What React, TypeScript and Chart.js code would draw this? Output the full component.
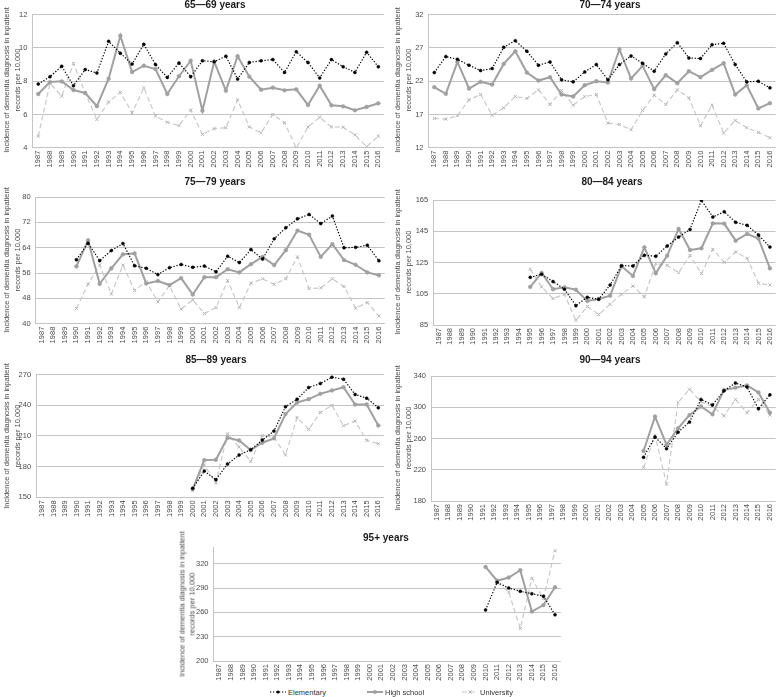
import React, { useEffect, useRef } from 'react';
import { Chart, registerables } from 'chart.js';
Chart.register(...registerables);

const FONT = '"Liberation Sans", Arial, sans-serif';

// ---------- categories ----------
const years = ['1987', '1988', '1989', '1990', '1991', '1992', '1993', '1994', '1995', '1996',
  '1997', '1998', '1999', '2000', '2001', '2002', '2003', '2004', '2005', '2006',
  '2007', '2008', '2009', '2010', '2011', '2012', '2013', '2014', '2015', '2016'];

const seriesNames = ['Elementary', 'High school', 'University'];
const yAxisTitle = ['Incidence of dementia diagnosis in inpatient', 'records per 10,000'];

// ---------- 65–69 ----------
const elem65 = [7.83, 8.27, 8.9, 7.73, 8.7, 8.5, 10.4, 9.68, 9.03, 10.22, 9.0, 8.23, 9.1, 8.27, 9.23, 9.17, 9.5, 8.13, 9.13, 9.23, 9.3, 8.53, 9.77, 9.13, 8.2, 9.3, 8.87, 8.53, 9.74, 8.87];
const hs65 = [7.23, 7.95, 7.99, 7.47, 7.29, 6.5, 8.15, 10.74, 8.55, 8.93, 8.73, 7.23, 8.3, 9.23, 6.23, 9.17, 7.43, 9.5, 8.27, 7.49, 7.61, 7.45, 7.51, 6.57, 7.73, 6.55, 6.49, 6.25, 6.45, 6.67];
const univ65 = [4.7, 7.87, 7.1, 9.07, 7.3, 5.7, 6.75, 7.33, 6.1, 7.6, 5.9, 5.53, 5.33, 6.27, 4.8, 5.15, 5.2, 6.87, 5.25, 4.9, 6.0, 5.5, 3.98, 5.25, 5.83, 5.25, 5.23, 4.77, 4.06, 4.7];
const ticks65 = [4, 6, 8, 10, 12];

// ---------- 70–74 ----------
const elem70 = [23.3, 25.7, 25.3, 24.4, 23.6, 23.9, 27.1, 28.1, 26.5, 24.4, 24.9, 22.2, 21.9, 23.4, 24.5, 22.2, 24.5, 25.8, 24.7, 23.5, 26.1, 27.8, 25.5, 25.4, 27.5, 27.7, 24.5, 21.9, 22.0, 21.0];
const hs70 = [21.1, 20.1, 24.9, 20.9, 21.9, 21.5, 24.6, 26.5, 23.3, 22.1, 22.6, 20.0, 19.7, 21.4, 22.0, 21.8, 26.8, 22.4, 24.3, 20.8, 22.9, 21.7, 23.5, 22.6, 23.7, 24.7, 20.0, 21.4, 17.9, 18.7];
const univ70 = [16.4, 16.3, 16.8, 19.2, 20.0, 16.9, 18.0, 19.7, 19.4, 20.7, 18.5, 20.6, 18.4, 19.7, 20.0, 15.7, 15.5, 14.7, 17.6, 19.9, 18.5, 20.7, 19.5, 15.3, 18.4, 14.2, 16.1, 15.0, 14.3, 13.5];
const ticks70 = [12, 17, 22, 27, 32];

// ---------- 75–79 ----------
const elem75 = [null, null, null, 60.2, 65.4, 59.9, 63.1, 65.3, 58.3, 57.5, 55.5, 57.7, 58.7, 57.8, 58.2, 56.4, 61.3, 59.3, 63.4, 60.4, 66.8, 70.3, 73.1, 74.5, 71.6, 74.0, 64.0, 64.1, 64.8, 59.9];
const hs75 = [null, null, null, 58.1, 66.3, 52.6, 57.5, 61.9, 62.2, 52.7, 53.5, 52.2, 54.4, 49.2, 54.7, 54.7, 57.2, 56.2, 58.8, 61.1, 58.5, 63.2, 69.4, 68.1, 61.1, 65.1, 60.1, 58.6, 56.2, 55.3];
const univ75 = [null, null, null, 44.8, 52.5, 58.5, 49.4, 58.5, 50.5, 53.3, 46.9, 52.0, 44.6, 47.5, 43.2, 45.1, 53.6, 45.1, 52.8, 54.2, 52.4, 54.2, 61.1, 51.1, 51.3, 54.2, 51.7, 44.9, 46.7, 42.4];
const ticks75 = [40, 48, 56, 64, 72, 80];

// ---------- 80–84 ----------
const elem80 = [null, null, null, null, null, null, null, null, 115.5, 117.5, 112.8, 107.9, 97.4, 102.7, 101.5, 110.6, 123.0, 122.8, 129.6, 129.0, 135.6, 141.3, 146.2, 164.8, 154.1, 157.5, 150.7, 148.8, 142.6, 134.9];
const hs80 = [null, null, null, null, null, null, null, null, 109.4, 118.3, 107.9, 109.1, 107.6, 100.4, 101.7, 103.8, 122.6, 116.4, 134.7, 118.1, 129.4, 146.5, 133.0, 134.1, 150.1, 149.9, 139.0, 143.3, 140.3, 121.3];
const univ80 = [null, null, null, null, null, null, null, null, 120.7, 109.4, 101.9, 104.7, 88.0, 96.8, 91.7, 98.3, 104.7, 110.0, 103.0, 124.3, 123.2, 118.5, 129.4, 117.9, 133.4, 125.1, 131.7, 127.7, 111.7, 110.6];
const ticks80 = [85, 105, 125, 145, 165];

// ---------- 85–89 ----------
const elem85 = [null, null, null, null, null, null, null, null, null, null, null, null, null, 158.8, 175.7, 167.2, 182.5, 191.3, 196.5, 205.9, 214.7, 238.5, 245.9, 257.3, 261.2, 267.4, 265.4, 250.5, 246.9, 237.5];
const hs85 = [null, null, null, null, null, null, null, null, null, null, null, null, null, 158.1, 186.4, 186.7, 208.2, 205.6, 196.2, 203.3, 207.6, 231.3, 242.7, 245.9, 251.1, 254.4, 257.6, 240.7, 240.7, 220.2];
const univ85 = [null, null, null, null, null, null, null, null, null, null, null, null, null, 156.5, 181.5, 164.0, 212.1, 199.1, 185.1, 210.2, 209.0, 191.3, 228.0, 216.3, 232.9, 239.8, 219.9, 224.5, 205.6, 202.4];
const ticks85 = [150, 180, 210, 240, 270];

// ---------- 90–94 ----------
const elem90 = [null, null, null, null, null, null, null, null, null, null, null, null, null, null, null, null, null, null, 236, 262, 247, 268, 281, 310, 303, 321, 331, 326, 298, 316];
const hs90 = [null, null, null, null, null, null, null, null, null, null, null, null, null, null, null, null, null, null, 244, 288, 252, 273, 290, 301, 291, 322, 325, 328, 319, 293];
const univ90 = [null, null, null, null, null, null, null, null, null, null, null, null, null, null, null, null, null, null, 223, 264, 202, 306, 323, 307, 301, 289, 310, 293, 310, 290];
const ticks90 = [180, 220, 260, 300, 340];

// ---------- 95+ ----------
const elem95 = [null, null, null, null, null, null, null, null, null, null, null, null, null, null, null, null, null, null, null, null, null, null, null, 263, 297, 290, 286, 283, 280, 257];
const hs95 = [null, null, null, null, null, null, null, null, null, null, null, null, null, null, null, null, null, null, null, null, null, null, null, 316, 299, 303, 312, 261, 269, 291];
const univ95 = [null, null, null, null, null, null, null, null, null, null, null, null, null, null, null, null, null, null, null, null, null, null, null, null, 297, 285, 240, 302, 277, 336];
const ticks95 = [200, 230, 260, 290, 320];
const axisMax95 = 340;

// ---------- layout (positions only) ----------
type Panel = {
  title: string;
  elem: (number | null)[];
  hs: (number | null)[];
  univ: (number | null)[];
  ticks: number[];
  max: number;
  box: { left: number; top: number; w: number; h: number };
  plot: { L: number; R: number; T: number; B: number };
  titleAt: { x: number; y: number };
  yTitleAt: { x: number; y: number; lh: number };
};

const panels: Panel[] = [
  {
    title: '65—69 years', elem: elem65, hs: hs65, univ: univ65, ticks: ticks65, max: ticks65[ticks65.length - 1],
    box: { left: 0, top: 0, w: 391, h: 176 }, plot: { L: 32.4, R: 384.2, T: 14.7, B: 147.7 },
    titleAt: { x: 215, y: 5 }, yTitleAt: { x: 12, y: 80, lh: 11 },
  },
  {
    title: '70—74 years', elem: elem70, hs: hs70, univ: univ70, ticks: ticks70, max: ticks70[ticks70.length - 1],
    box: { left: 391, top: 0, w: 391, h: 176 }, plot: { L: 428.5, R: 781.5, T: 14.7, B: 147.7 },
    titleAt: { x: 610, y: 5 }, yTitleAt: { x: 403, y: 80, lh: 11 },
  },
  {
    title: '75—79 years', elem: elem75, hs: hs75, univ: univ75, ticks: ticks75, max: ticks75[ticks75.length - 1],
    box: { left: 0, top: 185, w: 391, h: 170 }, plot: { L: 35.7, R: 386.9, T: 197, B: 323.7 },
    titleAt: { x: 215, y: 182 }, yTitleAt: { x: 12, y: 260, lh: 11 },
  },
  {
    title: '80—84 years', elem: elem80, hs: hs80, univ: univ80, ticks: ticks80, max: ticks80[ticks80.length - 1],
    box: { left: 391, top: 185, w: 391, h: 170 }, plot: { L: 433.2, R: 781.5, T: 200, B: 325 },
    titleAt: { x: 612, y: 182 }, yTitleAt: { x: 403, y: 262, lh: 11 },
  },
  {
    title: '85—89 years', elem: elem85, hs: hs85, univ: univ85, ticks: ticks85, max: ticks85[ticks85.length - 1],
    box: { left: 0, top: 365, w: 391, h: 165 }, plot: { L: 36.1, R: 384.1, T: 374.3, B: 497.3 },
    titleAt: { x: 216, y: 360 }, yTitleAt: { x: 12, y: 436, lh: 11 },
  },
  {
    title: '90—94 years', elem: elem90, hs: hs90, univ: univ90, ticks: ticks90, max: ticks90[ticks90.length - 1],
    box: { left: 391, top: 365, w: 391, h: 165 }, plot: { L: 431, R: 780.1, T: 376, B: 501 },
    titleAt: { x: 610, y: 360 }, yTitleAt: { x: 403, y: 438, lh: 11 },
  },
  {
    title: '95+ years', elem: elem95, hs: hs95, univ: univ95, ticks: ticks95, max: axisMax95,
    box: { left: 160, top: 538, w: 450, h: 148 }, plot: { L: 213.5, R: 560.8, T: 542, B: 661 },
    titleAt: { x: 386, y: 538 }, yTitleAt: { x: 187, y: 604, lh: 9.5 },
  },
];

const C_ELEM = '#000000';
const C_HS = '#a0a0a0';
const C_UNIV = '#c9c9c9';
const C_UNIV_PT = '#b5b5b5';
const C_GRID = '#c4c4c4';
const C_TEXT = '#4a4a4a';

function makeConfig(p: Panel): any {
  const { box, plot } = p;
  const padTop = plot.T - box.top;
  const padRight = box.left + box.w - plot.R;
  const yWidth = plot.L - box.left;
  const xHeight = box.top + box.h - plot.B;
  return {
    type: 'line',
    data: {
      labels: years,
      datasets: [
        {
          label: seriesNames[0], data: p.elem,
          borderColor: C_ELEM, backgroundColor: C_ELEM, borderWidth: 1.2, borderDash: [1.3, 1.7],
          pointStyle: 'circle', pointRadius: 1.5, pointBackgroundColor: C_ELEM, pointBorderColor: C_ELEM, pointBorderWidth: 0.5,
          spanGaps: false, tension: 0,
        },
        {
          label: seriesNames[1], data: p.hs,
          borderColor: C_HS, backgroundColor: C_HS, borderWidth: 2,
          pointStyle: 'circle', pointRadius: 1.9, pointBackgroundColor: C_HS, pointBorderColor: C_HS, pointBorderWidth: 0.5,
          spanGaps: false, tension: 0,
        },
        {
          label: seriesNames[2], data: p.univ,
          borderColor: C_UNIV, backgroundColor: C_UNIV, borderWidth: 1.2, borderDash: [5, 3],
          pointStyle: 'crossRot', pointRadius: 2.2, pointBorderColor: C_UNIV_PT, pointBorderWidth: 1,
          spanGaps: false, tension: 0,
        },
      ],
    },
    options: {
      animation: false,
      responsive: false,
      maintainAspectRatio: false,
      events: [],
      layout: { padding: { top: padTop, right: padRight, bottom: 0, left: 0 } },
      plugins: { legend: { display: false }, title: { display: false }, tooltip: { enabled: false } },
      scales: {
        x: {
          type: 'category',
          offset: true,
          grid: { display: false, drawTicks: false },
          border: { display: false },
          ticks: {
            autoSkip: false, minRotation: 90, maxRotation: 90, padding: 3,
            color: C_TEXT, font: { size: 7.5, family: FONT },
          },
          afterFit: (s: any) => { s.height = xHeight; },
        },
        y: {
          type: 'linear',
          min: p.ticks[0],
          max: p.max,
          grid: { color: C_GRID, lineWidth: 1, drawTicks: false },
          border: { display: true, color: C_GRID, width: 1 },
          ticks: { padding: 5, color: C_TEXT, font: { size: 7.5, family: FONT } },
          afterBuildTicks: (s: any) => { s.ticks = p.ticks.map((v) => ({ value: v })); },
          afterFit: (s: any) => { s.width = yWidth; },
        },
      },
    },
  };
}

function ChartPanel({ p }: { p: Panel }) {
  const ref = useRef<HTMLCanvasElement>(null);
  useEffect(() => {
    const chart = new Chart(ref.current as HTMLCanvasElement, makeConfig(p));
    return () => chart.destroy();
  }, [p]);
  return (
    <canvas
      ref={ref}
      width={p.box.w}
      height={p.box.h}
      style={{ position: 'absolute', left: p.box.left, top: p.box.top, width: p.box.w, height: p.box.h }}
    />
  );
}

function LegendSample({ kind }: { kind: number }) {
  if (kind === 0) {
    return (
      <svg width={16} height={6} style={{ display: 'block' }}>
        <line x1={0} y1={3} x2={16} y2={3} stroke={C_ELEM} strokeWidth={1.2} strokeDasharray="1.3 1.7" />
        <circle cx={8} cy={3} r={1.6} fill={C_ELEM} />
      </svg>
    );
  }
  if (kind === 1) {
    return (
      <svg width={16} height={6} style={{ display: 'block' }}>
        <line x1={0} y1={3} x2={16} y2={3} stroke={C_HS} strokeWidth={2} />
        <circle cx={8} cy={3} r={1.9} fill={C_HS} />
      </svg>
    );
  }
  return (
    <svg width={16} height={6} style={{ display: 'block' }}>
      <line x1={0} y1={3} x2={16} y2={3} stroke={C_UNIV} strokeWidth={1.2} strokeDasharray="5 3" />
      <line x1={6.4} y1={1.4} x2={9.6} y2={4.6} stroke={C_UNIV_PT} strokeWidth={1} />
      <line x1={6.4} y1={4.6} x2={9.6} y2={1.4} stroke={C_UNIV_PT} strokeWidth={1} />
    </svg>
  );
}

const legendX = [270, 367, 462];

export default function App() {
  return (
    <div style={{ position: 'absolute', left: 0, top: 0, width: 782, height: 697, background: '#fff', fontFamily: FONT, overflow: 'hidden' }}>
      {panels.map((p, i) => (
        <ChartPanel key={'c' + i} p={p} />
      ))}
      {panels.map((p, i) => (
        <div
          key={'t' + i}
          style={{
            position: 'absolute', left: p.titleAt.x, top: p.titleAt.y, transform: 'translate(-50%, -50%)',
            fontWeight: 'bold', fontSize: 10, color: '#1a1a1a', whiteSpace: 'nowrap', lineHeight: '12px',
          }}
        >
          {p.title}
        </div>
      ))}
      {panels.map((p, i) => (
        <div
          key={'y' + i}
          style={{
            position: 'absolute', left: p.yTitleAt.x, top: p.yTitleAt.y,
            transform: 'translate(-50%, -50%) rotate(-90deg)', textAlign: 'center',
            fontSize: 7.5, lineHeight: p.yTitleAt.lh + 'px', color: C_TEXT, whiteSpace: 'nowrap',
          }}
        >
          {yAxisTitle[0]}
          <br />
          {yAxisTitle[1]}
        </div>
      ))}
      {seriesNames.map((name, i) => (
        <div
          key={'l' + i}
          style={{
            position: 'absolute', left: legendX[i], top: 687, height: 10, display: 'flex', alignItems: 'center',
            fontSize: 7.5, color: '#333333', whiteSpace: 'nowrap',
          }}
        >
          <LegendSample kind={i} />
          <span style={{ marginLeft: 2 }}>{name}</span>
        </div>
      ))}
    </div>
  );
}
